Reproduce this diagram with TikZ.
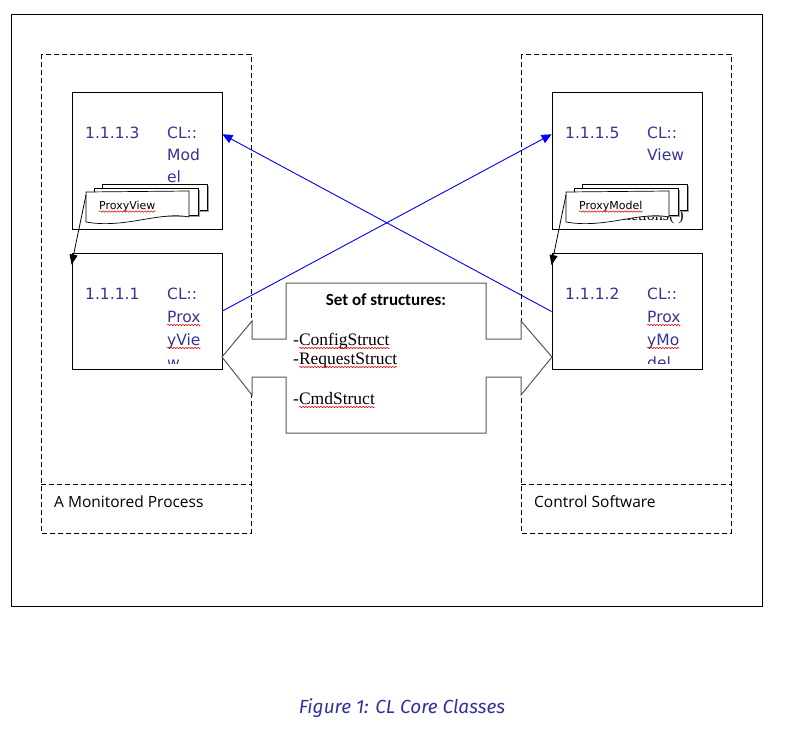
\documentclass[tikz,border=0pt]{standalone}
\usepackage{fontspec}
\setmainfont{DejaVu Sans}
\newfontfamily\calib{Carlito}
\newfontfamily\opens{Open Sans}
\newfontfamily\serifd{Liberation Serif}
\newfontfamily\capf{Fira Sans}
\usetikzlibrary{arrows.meta,calc,decorations.pathmorphing}
\definecolor{boxblue}{RGB}{52,52,150}
\definecolor{capblue}{RGB}{51,51,153}
\definecolor{blockgray}{RGB}{89,89,89}
\tikzset{
  classbox/.style={draw=black, line width=0.9pt, minimum width=150pt, minimum height=137pt, inner sep=0pt},
  classboxb/.style={draw=black, line width=0.9pt, minimum width=150pt, minimum height=116pt, inner sep=0pt},
  container/.style={draw=black, line width=0.9pt, dash pattern=on 5pt off 3pt},
  btxt/.style={anchor=base west, inner sep=0pt, text=boxblue, font=\fontsize{15.5}{15.5}\selectfont},
  dtxt/.style={anchor=base west, inner sep=0pt, font=\fontsize{11}{11}\selectfont},
  stxt/.style={anchor=base west, inner sep=0pt, font=\serifd\fontsize{17.5}{17.5}\selectfont},
  ltxt/.style={anchor=base west, inner sep=0pt, font=\opens\fontsize{15.5}{15.5}\selectfont},
  spell/.style={draw=red, line width=0.5pt, decorate, decoration={snake, amplitude=0.8pt, segment length=3pt}},
  bluearrow/.style={draw=blue, line width=0.9pt, -{Triangle[length=10pt,width=9pt]}},
  blackarrow/.style={draw=black, line width=0.8pt, -{Triangle[length=10pt,width=8pt]}},
  docback/.style={draw=black, fill=white, line width=0.7pt},
  docshadow/.style={fill=gray!75, draw=none},
  blockarrow/.style={draw=blockgray, line width=1pt, fill=white},
}
\begin{document}
\begin{tikzpicture}[x=1pt,y=-1pt]
\useasboundingbox (0,0) rectangle (797,731);
\fill[white] (0,0) rectangle (797,731);
% outer frame
\draw[line width=0.8pt] (11,14) rectangle (762,606);
% containers
\draw[container] (41,54) rectangle (251,533);
\draw[container] (41,484) -- (251,484);
\draw[container] (521,54) rectangle (731,533);
\draw[container] (521,484) -- (731,484);
\node[ltxt] (lab1) at (54,507) {A Monitored Process};
\node[ltxt] (lab2) at (534,507) {Control Software};

% class boxes
\node[classbox] (m3) at (147,160.5) {};
\node[classbox] (v5) at (627,160.5) {};
\node[classboxb] (p1) at (147,311) {};
\node[classboxb] (p2) at (627,311.5) {};

% texts of 1.1.1.3
\node[btxt] (t3a) at (85,138) {1.1.1.3};
\node[btxt] (t3b) at (167,138) {CL::};
\node[btxt] (t3c) at (167,160) {Mod};
\node[btxt] (t3d) at (167,182) {el};
% texts of 1.1.1.5
\node[btxt] (t5a) at (565,138) {1.1.1.5};
\node[btxt] (t5b) at (647,138) {CL::};
\node[btxt] (t5c) at (647,160) {View};
\node[anchor=base east, inner sep=0pt, font=\serifd\fontsize{16}{16}\selectfont] (t5f) at (684,220) {Functions( )};

% texts of 1.1.1.1 (clipped)
\begin{scope}
\clip (72,253) rectangle (222,363);
\node[btxt] (t1a) at (85,299) {1.1.1.1};
\node[btxt] (t1b) at (167,299) {CL::};
\node[btxt] (t1c) at (167,322) {Prox};
\node[btxt] (t1d) at (167,345) {yVie};
\node[btxt] (t1e) at (167,368) {w};
\end{scope}
\draw[spell] ($(t1c.base west)+(0,3)$) -- ($(t1c.base east)+(0,3)$);
\draw[spell] ($(t1d.base west)+(0,3)$) -- ($(t1d.base east)+(0,3)$);
% texts of 1.1.1.2 (clipped)
\begin{scope}
\clip (552,253) rectangle (702,363);
\node[btxt] (t2a) at (565,299) {1.1.1.2};
\node[btxt] (t2b) at (647,299) {CL::};
\node[btxt] (t2c) at (647,322) {Prox};
\node[btxt] (t2d) at (647,345) {yMo};
\node[btxt] (t2e) at (647,368) {del};
\end{scope}
\draw[spell] ($(t2c.base west)+(0,3)$) -- ($(t2c.base east)+(0,3)$);
\draw[spell] ($(t2d.base west)+(0,3)$) -- ($(t2d.base east)+(0,3)$);

% document stacks
\foreach \dx in {0,480}{
  \begin{scope}[xshift=\dx]
  \fill[docshadow] (104,186) rectangle (209,212);
  \draw[docback] (102,184) rectangle (207,210);
  \fill[docshadow] (96,190) rectangle (200,217);
  \draw[docback] (94,188) rectangle (198,215);
  \draw[docback] (86,192) -- (189,191) -- (189,217)
     .. controls (160,211) and (125,229) .. (86,222) -- cycle;
  \end{scope}
}
\node[dtxt] (d1) at (99,209) {ProxyView};
\node[dtxt] (d2) at (579,209) {ProxyModel};
\draw[spell] ($(d1.base west)+(0,2.5)$) -- ($(d1.base east)+(0,2.5)$);
\draw[spell] ($(d2.base west)+(0,2.5)$) -- ($(d2.base east)+(0,2.5)$);

% black arrows from documents to proxy boxes
\coordinate (ds1) at (86,195);
\coordinate (ds2) at (566,195);
\draw[blackarrow] (ds1) -- ($(p1.north west)+(0,12)$);
\draw[blackarrow] (ds2) -- ($(p2.north west)+(0,12)$);

% blue arrows
\draw[bluearrow] (p2.west) -- ($(m3.north east)!0.31!(m3.south east)$);
\draw[bluearrow] (p1.east) -- ($(v5.north west)!0.31!(v5.south west)$);

% double block arrow
\draw[blockarrow] (222,357) -- (252,321) -- (252,339) -- (286,339) -- (286,283)
  -- (486,283) -- (486,339) -- (521,339) -- (521,321) -- (552,357)
  -- (521,395) -- (521,377) -- (486,377) -- (486,433) -- (286,433)
  -- (286,377) -- (252,377) -- (252,395) -- cycle;
\node[inner sep=0pt, font=\calib\bfseries\fontsize{17}{17}\selectfont] (settitle) at (386,300) {Set of structures:};
\node[stxt] (s1) at (293,345) {-ConfigStruct};
\node[stxt] (s2) at (293,364) {-RequestStruct};
\node[stxt] (s3) at (293,404) {-CmdStruct};
\draw[spell] ($(s1.base west)+(6,3)$) -- ($(s1.base east)+(0,3)$);
\draw[spell] ($(s2.base west)+(6,3)$) -- ($(s2.base east)+(0,3)$);
\draw[spell] ($(s3.base west)+(6,3)$) -- ($(s3.base east)+(0,3)$);

% caption
\node[inner sep=0pt, text=capblue, font=\capf\itshape\fontsize{19}{19}\selectfont] (cap) at (402,708) {Figure 1: CL Core Classes};
\end{tikzpicture}
\end{document}
